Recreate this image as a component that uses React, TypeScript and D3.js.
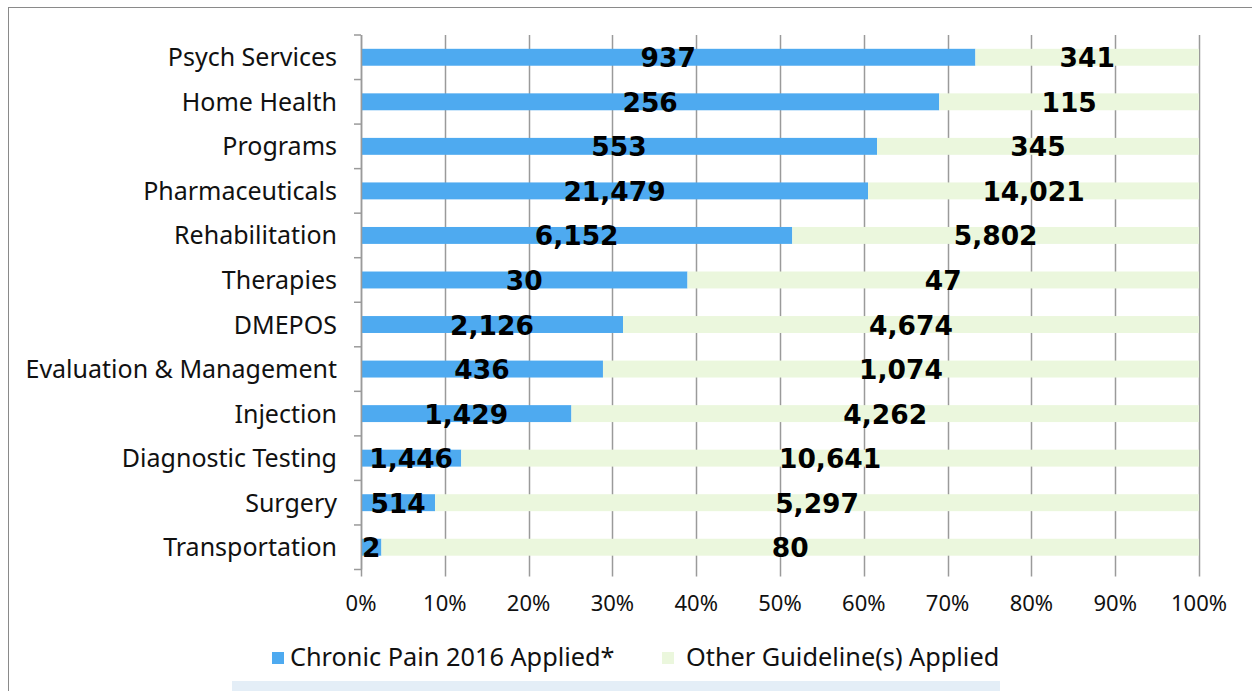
import React from "react";
import * as d3 from "d3";

const categories = [
  "Psych Services",
  "Home Health",
  "Programs",
  "Pharmaceuticals",
  "Rehabilitation",
  "Therapies",
  "DMEPOS",
  "Evaluation & Management",
  "Injection",
  "Diagnostic Testing",
  "Surgery",
  "Transportation",
];
const chronicPain = [937, 256, 553, 21479, 6152, 30, 2126, 436, 1429, 1446, 514, 2];
const otherGuidelines = [341, 115, 345, 14021, 5802, 47, 4674, 1074, 4262, 10641, 5297, 80];
const seriesNames = ["Chronic Pain 2016 Applied*", "Other Guideline(s) Applied"];
const xTicks = [0, 0.1, 0.2, 0.3, 0.4, 0.5, 0.6, 0.7, 0.8, 0.9, 1];

const BLUE = "#4eaaf0";
const GREEN = "#ebf7dd";
const GRID = "#9a9a9a";

export default function App() {
  const left = 361, right = 1199, top = 35, bottom = 569.5;
  const x = d3.scaleLinear().domain([0, 1]).range([left, right]);
  const y = d3.scaleBand().domain(categories).range([top, bottom]).paddingInner(0.62).paddingOuter(0.31);
  const yb = d3.scaleBand().domain(categories).range([top, bottom]);
  const fmt = d3.format(",");

  const rows = categories.map((c, i) => {
    const total = chronicPain[i] + otherGuidelines[i];
    const p = chronicPain[i] / total;
    return { c, a: chronicPain[i], b: otherGuidelines[i], p };
  });

  return (
    <svg width={1252} height={691} style={{ position: "absolute", left: 0, top: 0 }}>
      <rect x={0} y={0} width={1252} height={691} fill="#fff" />
      <rect x={8.5} y={7.5} width={1260} height={700} fill="none" stroke="#8a8a8a" strokeWidth={1} />
      {/* gridlines */}
      {xTicks.map((t) => (
        <line key={"g" + t} x1={Math.round(x(t)) + 0.5} x2={Math.round(x(t)) + 0.5} y1={top} y2={bottom + 7} stroke={GRID} strokeWidth={1.5} />
      ))}
      {/* bars */}
      {rows.map((r) => (
        <g key={r.c}>
          <rect x={x(0)} y={y(r.c)!} width={x(r.p) - x(0)} height={y.bandwidth()} fill={BLUE} />
          <rect x={x(r.p)} y={y(r.c)!} width={x(1) - x(r.p)} height={y.bandwidth()} fill={GREEN} />
        </g>
      ))}
      {/* y axis */}
      <line x1={left + 0.5} x2={left + 0.5} y1={top} y2={bottom} stroke={GRID} strokeWidth={1.5} />
      {categories.map((c) => (
        <line key={"t" + c} x1={left - 7} x2={left} y1={yb(c)!} y2={yb(c)!} stroke={GRID} strokeWidth={1.5} />
      ))}
      <line x1={left - 7} x2={left} y1={bottom} y2={bottom} stroke={GRID} strokeWidth={1.5} />
      {/* category labels */}
      {categories.map((c) => (
        <text key={"l" + c} x={337} y={y(c)! + y.bandwidth() / 2 + 9} textAnchor="end"
          fontFamily="'Noto Sans', sans-serif" fontSize={25} fill="#111">{c}</text>
      ))}
      {/* value labels */}
      {rows.map((r) => (
        <g key={"v" + r.c} fontFamily="'DejaVu Sans', sans-serif" fontWeight="bold" fontSize={26.5} fill="#000" textAnchor="middle">
          <text x={(x(0) + x(r.p)) / 2} y={y(r.c)! + y.bandwidth() / 2 + 10}>{fmt(r.a)}</text>
          <text x={(x(r.p) + x(1)) / 2} y={y(r.c)! + y.bandwidth() / 2 + 10}>{fmt(r.b)}</text>
        </g>
      ))}
      {/* x tick labels */}
      {xTicks.map((t) => (
        <text key={"x" + t} x={x(t)} y={611} textAnchor="middle" fontFamily="'Noto Sans', sans-serif" fontSize={22} fill="#111">
          {d3.format(".0%")(t)}
        </text>
      ))}
      {/* legend */}
      <rect x={272} y={652} width={12} height={12} fill={BLUE} />
      <text x={290} y={666} fontFamily="'Noto Sans', sans-serif" fontSize={25.3} fill="#111">{seriesNames[0]}</text>
      <rect x={662} y={652} width={12} height={12} fill={GREEN} />
      <text x={686} y={666} fontFamily="'Noto Sans', sans-serif" fontSize={25.3} fill="#111">{seriesNames[1]}</text>
      <rect x={232} y={681} width={768} height={12} fill="#e4eef7" />
    </svg>
  );
}
